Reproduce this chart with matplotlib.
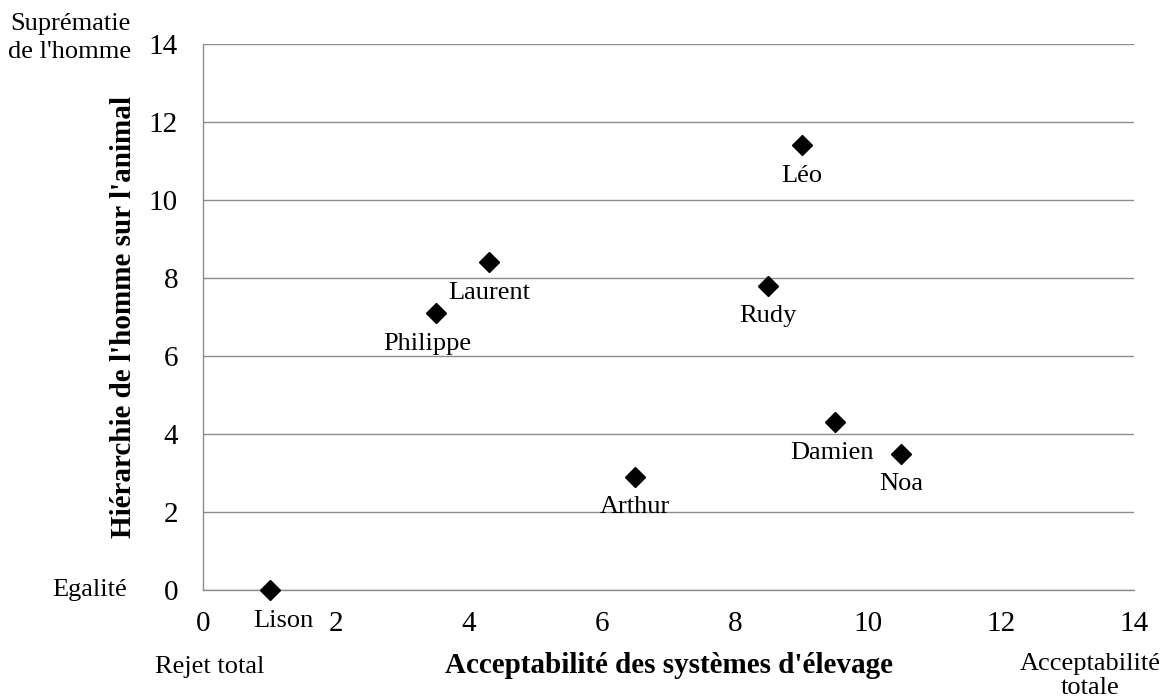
import matplotlib
matplotlib.use("Agg")
import matplotlib.pyplot as plt

names = ["Lison", "Philippe", "Laurent", "Léo", "Rudy", "Damien", "Noa", "Arthur"]
x_vals = [1.0, 3.5, 4.3, 9.0, 8.5, 9.5, 10.5, 6.5]
y_vals = [0.0, 7.1, 8.4, 11.4, 7.8, 4.3, 3.5, 2.9]
label_dx = [10, -6, 0, 0, 0, -2, 0, 0]
ticks = [0, 2, 4, 6, 8, 10, 12, 14]

plt.rcParams['font.family'] = ['Liberation Serif', 'DejaVu Serif']

fig = plt.figure(figsize=(11.66, 7.0), dpi=100)
ax = fig.add_axes([0.1741, 0.1571, 0.9726 - 0.1741, 0.9371 - 0.1571])

ax.plot(x_vals, y_vals, linestyle='none', marker='D', markersize=10,
        color='black', zorder=3, clip_on=False)
for n, x, y, dx in zip(names, x_vals, y_vals, label_dx):
    ax.annotate(n, (x, y), xytext=(dx, -22), textcoords='offset points',
                ha='center', va='center', fontsize=19, annotation_clip=False)

ax.set_xlim(0, 14)
ax.set_ylim(0, 14)
ax.set_xticks(ticks)
ax.set_yticks(ticks)
ax.tick_params(axis='x', length=0, labelsize=21, pad=15)
ax.tick_params(axis='y', length=0, labelsize=21, pad=18)
ax.grid(axis='y', color='#8c8c8c', linewidth=1)
ax.set_axisbelow(True)
for s in ['top', 'right']:
    ax.spines[s].set_visible(False)
for s in ['left', 'bottom']:
    ax.spines[s].set_color('#8c8c8c')
    ax.spines[s].set_linewidth(1)

ax.set_xlabel("Acceptabilité des systèmes d'élevage", fontsize=21, fontweight='bold')
ax.set_ylabel("Hiérarchie de l'homme sur l'animal", fontsize=21, fontweight='bold')
ax.xaxis.set_label_coords(0.5, (590 - 665) / 546)
ax.xaxis.label.set_va('center')
ax.yaxis.set_label_coords((124 - 203) / 931, 0.5)
ax.yaxis.label.set_va('center')

fig.text(210 / 1166, 1 - 667 / 700, "Rejet total", ha='center', va='center', fontsize=19)
fig.text(1090 / 1166, 1 - 676 / 700, "Acceptabilité\ntotale", ha='center', va='center',
         fontsize=19, linespacing=1.15)
fig.text(131 / 1166, 1 - 38 / 700, "Suprématie\nde l'homme", ha='right', va='center',
         fontsize=19, linespacing=1.3)
fig.text(90 / 1166, 1 - 590 / 700, "Egalité", ha='center', va='center', fontsize=19)

fig.savefig("out.png", dpi=100)
